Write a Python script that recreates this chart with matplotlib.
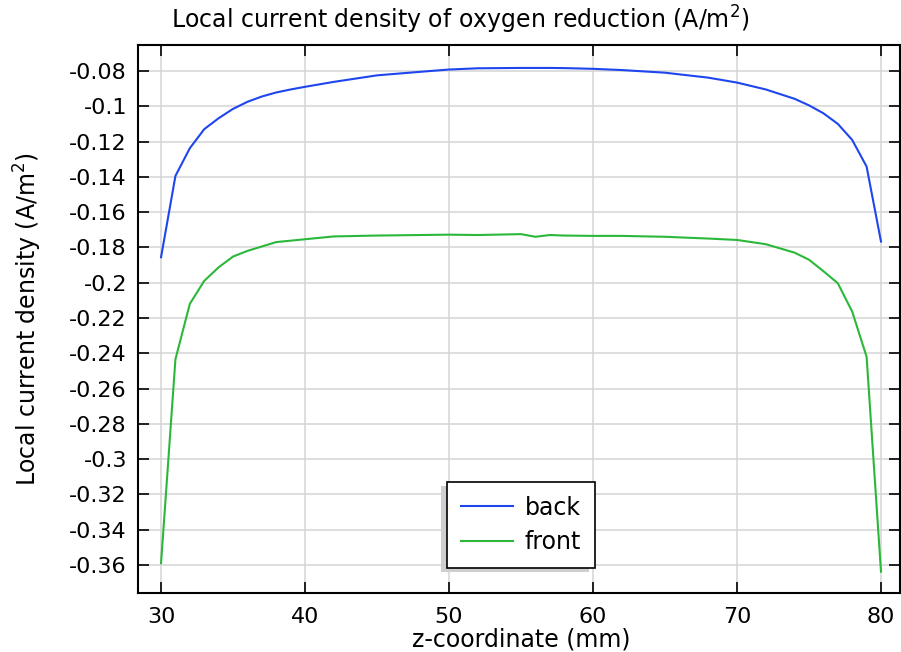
import matplotlib
matplotlib.use("Agg")
import matplotlib.pyplot as plt
from matplotlib.patches import Rectangle
from matplotlib.transforms import IdentityTransform

# z-coordinate (mm)
z = [30, 31, 32, 33, 34, 35, 36, 37, 38, 39, 40, 42, 45, 48, 50, 52, 55, 56, 57,
     58, 60, 62, 65, 68, 70, 72, 74, 75, 76, 77, 78, 79, 80]

back = [-0.1856, -0.1395, -0.1238, -0.1130, -0.1068, -0.1015, -0.0975, -0.0945,
        -0.0922, -0.0905, -0.0890, -0.0862, -0.0825, -0.0805, -0.0792, -0.0785,
        -0.0783, -0.0783, -0.0783, -0.0784, -0.0788, -0.0795, -0.0810, -0.0838,
        -0.0866, -0.0905, -0.0958, -0.0995, -0.1040, -0.1100, -0.1191, -0.1342,
        -0.1767]

front = [-0.3590, -0.2434, -0.2120, -0.1990, -0.1913, -0.1852, -0.1820, -0.1795,
         -0.1770, -0.1762, -0.1754, -0.1738, -0.1733, -0.1730, -0.1728, -0.1730,
         -0.1725, -0.1740, -0.1730, -0.1733, -0.1735, -0.1735, -0.1740, -0.1750,
         -0.1758, -0.1782, -0.1830, -0.1870, -0.1935, -0.2003, -0.2164, -0.2420,
         -0.3638]

yticks = [-0.08, -0.1, -0.12, -0.14, -0.16, -0.18, -0.2, -0.22, -0.24, -0.26,
          -0.28, -0.3, -0.32, -0.34, -0.36]
yticklabels = ["-0.08", "-0.1", "-0.12", "-0.14", "-0.16", "-0.18", "-0.2", "-0.22",
               "-0.24", "-0.26", "-0.28", "-0.3", "-0.32", "-0.34", "-0.36"]
xticks = [30, 40, 50, 60, 70, 80]

plt.rcParams["font.family"] = "DejaVu Sans"

fig = plt.figure(figsize=(9.01, 6.52), dpi=100)
ax = fig.add_axes([138 / 901, 1 - 593 / 652, 762 / 901, 548 / 652])

ax.plot(z, back, color="#1e46ee", lw=1.5, label="back")
ax.plot(z, front, color="#2bb83a", lw=1.5, label="front")

ax.set_xlim(28.40, 81.32)
ax.set_ylim(-0.3759, -0.0653)
ax.set_xticks(xticks)
ax.set_yticks(yticks)
ax.set_yticklabels(yticklabels)
ax.tick_params(direction="in", length=8, width=1.2, labelsize=16, top=True, right=True)
ax.tick_params(axis="y", pad=8)
ax.tick_params(axis="x", pad=10)
ax.grid(True, color="#d4d4d4", lw=1.1)
ax.set_axisbelow(True)
for s in ax.spines.values():
    s.set_linewidth(1.5)

fig.text(460 / 901, 1 - 29 / 652, "Local current density of oxygen reduction (A/m$^2$)",
         fontsize=17, ha="center", va="baseline")
ax.set_xlabel("z-coordinate (mm)", fontsize=17, va="center")
ax.xaxis.set_label_coords((521 - 138) / 762, (593 - 639) / 548)
ax.set_ylabel("Local current density (A/m$^2$)", fontsize=17, va="center")
ax.yaxis.set_label_coords((28 - 138) / 762, 0.5)

leg = ax.legend(loc="center", bbox_to_anchor=((521 - 138) / 762, (593 - 525) / 548),
                fontsize=17, frameon=True, fancybox=False, shadow=False, framealpha=1,
                handlelength=2.2, handletextpad=0.5, borderpad=0.6, labelspacing=0.45)
leg.get_frame().set_edgecolor("black")
leg.get_frame().set_linewidth(1.2)

# soft shadow offset to the lower left, as in the original
fig.canvas.draw()
bb = leg.get_window_extent()
ax.add_patch(Rectangle((bb.x0 - 6, bb.y0 - 4), bb.width, bb.height,
                       transform=IdentityTransform(), facecolor="#cfcfcf",
                       edgecolor="none", zorder=4.5, clip_on=False))

fig.savefig("out.png", dpi=100)
